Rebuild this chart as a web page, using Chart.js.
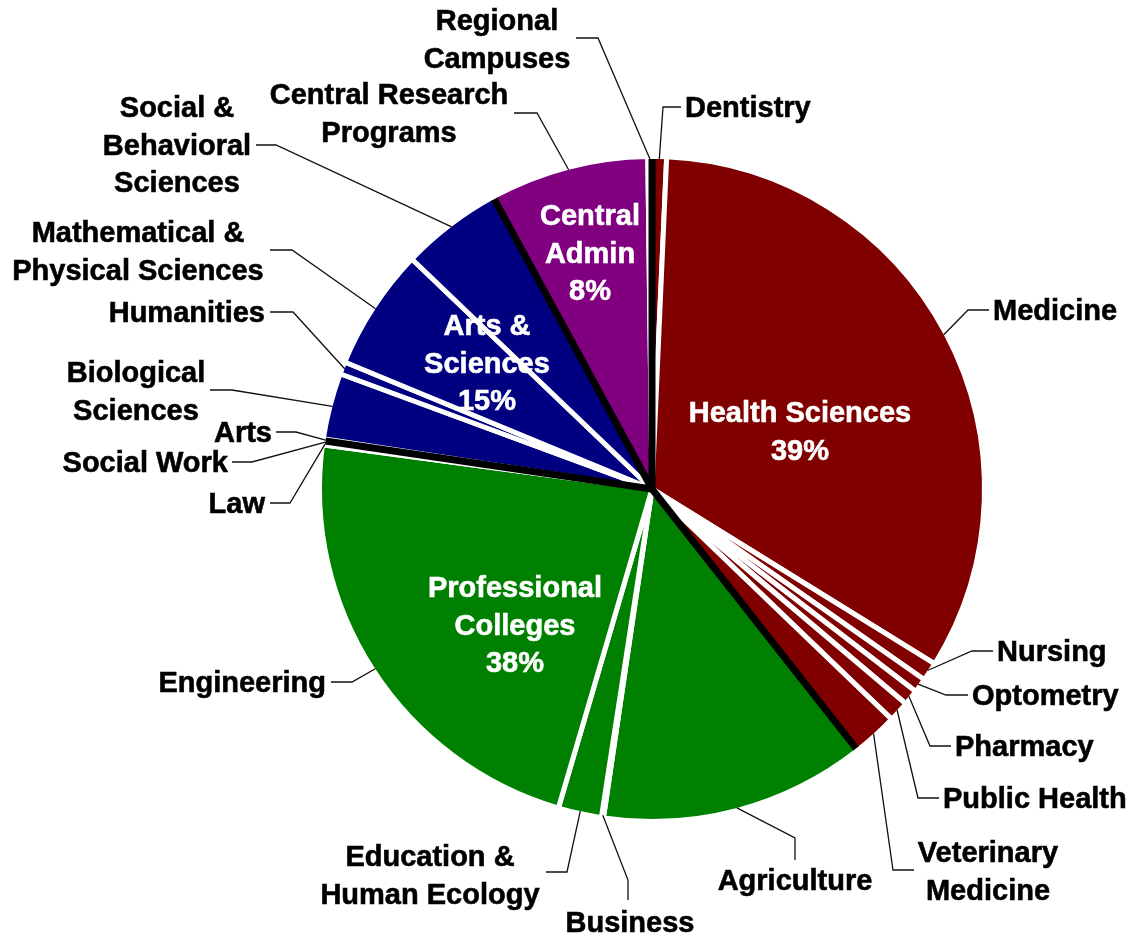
<!DOCTYPE html>
<html>
<head>
<meta charset="utf-8">
<script src="https://cdn.jsdelivr.net/npm/chart.js@4.4.0/dist/chart.umd.min.js"></script>
<style>
  html, body { margin: 0; padding: 0; background: #fff; }
  #chart { display: block; }
</style>
</head>
<body>
<canvas id="chart" width="1134" height="939"></canvas>
<script>
// budget share by unit, clockwise from the top, grouped by college group
const groupNames = ['Health Sciences', 'Professional\nColleges', 'Arts &\nSciences', 'Central\nAdmin'];
const groupColors = ['#800000', '#008000', '#000080', '#800080'];

const unitNames = [
  'Dentistry', 'Medicine', 'Nursing', 'Optometry', 'Pharmacy', 'Public Health', 'Veterinary\nMedicine',
  'Agriculture', 'Business', 'Education &\nHuman Ecology', 'Engineering', 'Law', 'Social Work',
  'Arts', 'Biological\nSciences', 'Humanities', 'Mathematical &\nPhysical Sciences', 'Social &\nBehavioral\nSciences',
  'Central Research\nPrograms', 'Regional\nCampuses'
];
const unitGroup = [0, 0, 0, 0, 0, 0, 0, 1, 1, 1, 1, 1, 1, 2, 2, 2, 2, 2, 3, 3];
const unitShare = [0.7, 33.0, 0.9, 0.7, 0.75, 1.0, 2.2, 12.9, 0.1, 2.1, 22.5, 0.1, 0.1, 0.1, 3.2, 0.6, 5.9, 4.9, 7.7, 0.2];

// where each outside label sits, and the two hook points of its leader line
const labelSpots = [
  {x: 685, y: 107, align: 'left', hook: [[681, 107], [663, 107]]},
  {x: 993, y: 310, align: 'left', hook: [[989, 310], [968, 310]]},
  {x: 997, y: 651, align: 'left', hook: [[993, 651], [972, 651]]},
  {x: 972, y: 695, align: 'left', hook: [[968, 695], [946, 695]]},
  {x: 955, y: 746, align: 'left', hook: [[951, 746], [930, 746]]},
  {x: 943, y: 798, align: 'left', hook: [[939, 798], [918, 798]]},
  {x: 988, y: 852, align: 'center', hook: [[914, 870], [893, 870]]},
  {x: 795, y: 880, align: 'center', hook: [[795, 860], [795, 838]]},
  {x: 630, y: 922, align: 'center', hook: [[628, 900], [628, 880]]},
  {x: 430, y: 856, align: 'center', hook: [[546, 872], [567, 872]]},
  {x: 326, y: 682, align: 'right', hook: [[331, 682], [352, 682]]},
  {x: 265, y: 503, align: 'right', hook: [[270, 503], [290, 503]]},
  {x: 228, y: 462, align: 'right', hook: [[232, 462], [252, 462]]},
  {x: 272, y: 432, align: 'right', hook: [[276, 432], [296, 432]]},
  {x: 136, y: 372, align: 'center', hook: [[210, 390], [232, 390]]},
  {x: 265, y: 312, align: 'right', hook: [[270, 312], [293, 312]]},
  {x: 138, y: 232, align: 'center', hook: [[270, 250], [292, 250]]},
  {x: 177, y: 107, align: 'center', hook: [[256, 145], [276, 145]]},
  {x: 389, y: 94, align: 'center', hook: [[514, 113], [537, 113]]},
  {x: 497, y: 20, align: 'center', hook: [[576, 38], [598, 38]]}
];
const groupSpots = [[800, 412], [515, 587], [487, 325], [590, 215]];

const FONT = 'bold 29px "Liberation Sans", Arial, sans-serif';
const LINE_H = 37.5;
const BORDER = 5;

function drawLines(ctx, text, x, y, align, color) {
  ctx.font = FONT;
  ctx.fillStyle = color;
  ctx.strokeStyle = color;
  ctx.lineWidth = 0.6;
  ctx.textAlign = align;
  ctx.textBaseline = 'middle';
  text.split('\n').forEach((line, i) => {
    ctx.fillText(line, x, y + 2 + i * LINE_H);
    ctx.strokeText(line, x, y + 2 + i * LINE_H);
  });
}

const piecesPlugin = {
  id: 'pieces',
  afterDatasetsDraw(chart) {
    const ctx = chart.ctx;
    const arcs = chart.getDatasetMeta(0).data;
    const total = unitShare.reduce((s, v) => s + v, 0);

    // black separators between groups
    ctx.save();
    ctx.strokeStyle = '#000';
    ctx.lineWidth = 7;
    ctx.lineCap = 'butt';
    groupNames.forEach((g, gi) => {
      const first = unitGroup.indexOf(gi);
      const arc = arcs[first];
      const r = arc.outerRadius - BORDER / 2;
      ctx.beginPath();
      ctx.moveTo(arc.x, arc.y);
      ctx.lineTo(arc.x + r * Math.cos(arc.startAngle), arc.y + r * Math.sin(arc.startAngle));
      ctx.stroke();
    });
    ctx.restore();

    // leader lines and unit labels
    ctx.save();
    arcs.forEach((arc, i) => {
      const spot = labelSpots[i];
      const mid = (arc.startAngle + arc.endAngle) / 2;
      const r = arc.outerRadius - BORDER / 2;
      ctx.strokeStyle = '#111';
      ctx.lineWidth = 1.3;
      ctx.beginPath();
      ctx.moveTo(spot.hook[0][0], spot.hook[0][1]);
      ctx.lineTo(spot.hook[1][0], spot.hook[1][1]);
      ctx.lineTo(arc.x + r * Math.cos(mid), arc.y + r * Math.sin(mid));
      ctx.stroke();
      drawLines(ctx, unitNames[i], spot.x, spot.y, spot.align, '#000');
    });

    // group labels with percentages
    groupNames.forEach((g, gi) => {
      const sum = unitShare.filter((v, i) => unitGroup[i] === gi).reduce((s, v) => s + v, 0);
      const pct = Math.round(sum / total * 100) + '%';
      drawLines(ctx, g + '\n' + pct, groupSpots[gi][0], groupSpots[gi][1], 'center', '#fff');
    });
    ctx.restore();
  }
};

new Chart(document.getElementById('chart'), {
  type: 'pie',
  data: {
    labels: unitNames,
    datasets: [{
      data: unitShare,
      backgroundColor: unitGroup.map(g => groupColors[g]),
      borderColor: '#fff',
      borderWidth: BORDER,
      hoverOffset: 0
    }]
  },
  options: {
    responsive: false,
    animation: false,
    rotation: 0,
    layout: { padding: { left: 317, right: 147, top: 154, bottom: 115 } },
    plugins: {
      legend: { display: false },
      tooltip: { enabled: false }
    }
  },
  plugins: [piecesPlugin]
});
</script>
</body>
</html>
